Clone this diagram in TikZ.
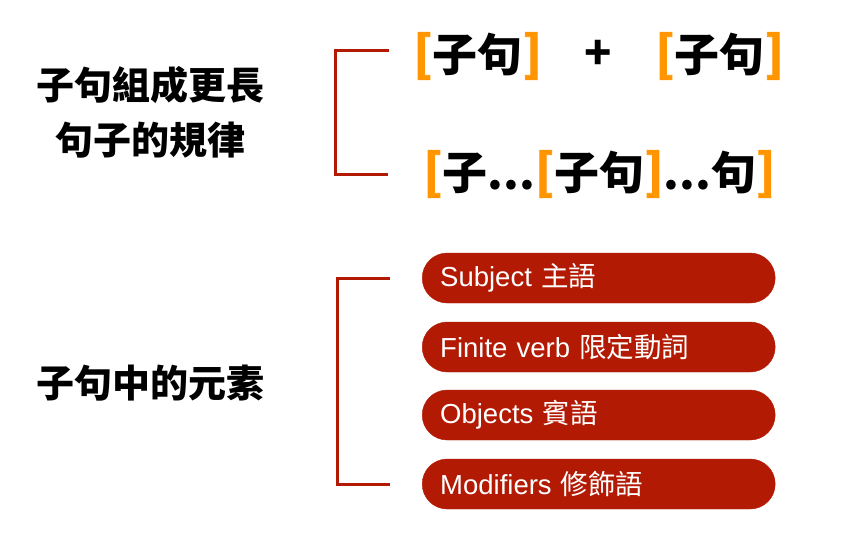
\documentclass[tikz,border=0pt]{standalone}
\usepackage{fontspec}
\usetikzlibrary{calc}
\newfontfamily\cjk{Noto Sans CJK TC}
\newfontfamily\lat{Liberation Sans}
\newfontfamily\brfont{Noto Sans CJK TC}[FakeBold=1.5]
\definecolor{bred}{HTML}{B21A04}
\definecolor{orng}{HTML}{FF9500}
\newcommand\obr{{\brfont\bfseries\fontsize{48.5}{50}\selectfont\textcolor{orng}{[}}}
\newcommand\cbr{{\brfont\bfseries\fontsize{48.5}{50}\selectfont\textcolor{orng}{]}}}
\begin{document}
\begin{tikzpicture}[x=1pt,y=-1pt,
  title/.style={font=\cjk\bfseries\fontsize{38}{55}\selectfont, align=center, text=black, inner sep=0pt},
  formula/.style={font=\cjk\bfseries\fontsize{45}{50}\selectfont, inner sep=0pt},
  pill/.style={fill=bred, draw=bred, rounded corners=25pt, minimum height=50pt, text width=317pt, inner xsep=18pt, inner ysep=0pt, align=left, anchor=west, text=white, font=\fontsize{27.5}{30}\selectfont},
  brk/.style={draw=bred, line width=3pt}]
\useasboundingbox (0,0) rectangle (850,536);

% titles
\node[title] (t1) at (150,112) {子句組成更長\\句子的規律};
\node[title] (t2) at (150,383) {子句中的元素};

% formulas
\node[formula, anchor=west] (f1) at (413,56) {\obr 子句\cbr};
\node[formula] (plus) at (598,55) {+};
\node[formula, anchor=west] (f2) at (655,56) {\obr 子句\cbr};
\node[formula, anchor=west] (f3) at (423,174) {\obr 子...\obr 子句\cbr...句\cbr};

% top bracket
\coordinate (ta) at (389,50);
\coordinate (tb) at (388,174);
\draw[brk] (ta) -- (335,50) -- (335,174) -- (tb);

% pills
\node[pill] (p1) at (422,278) {{\lat Subject} {\cjk 主語}};
\node[pill] (p2) at (422,347) {{\lat Finite verb} {\cjk 限定動詞}};
\node[pill] (p3) at (422,415) {{\lat Objects} {\cjk 賓語}};
\node[pill] (p4) at (422,484) {{\lat Modifiers} {\cjk 修飾語}};

% bottom bracket
\draw[brk] ($(p1.west)+(-32,0)$) -- ++(-53,0) |- ($(p4.west)+(-32,0)$);
\end{tikzpicture}
\end{document}
